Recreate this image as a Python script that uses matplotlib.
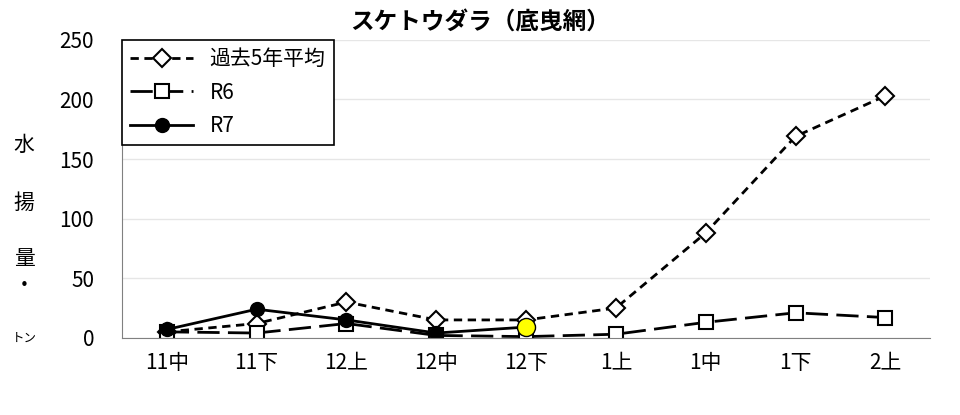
import matplotlib
matplotlib.use("Agg")
import matplotlib.pyplot as plt
plt.rcParams['font.family'] = ['Noto Sans CJK JP', 'DejaVu Sans']

categories = ["11中", "11下", "12上", "12中", "12下", "1上", "1中", "1下", "2上"]
avg5 = [5, 12, 30, 15, 15, 25, 88, 169, 203]
r6 = [5, 4, 12, 2, 1, 3, 13, 21, 17]
r7 = [7, 24, 15, 4, 9]

fig = plt.figure(figsize=(9.6, 4.15), dpi=100)
ax = fig.add_axes([0.127, 0.186, 0.842, 0.718])
x = list(range(len(categories)))
ax.plot(x, avg5, ls=(0, (3, 2)), color='black', lw=2, marker='D', ms=9,
        mfc='white', mec='black', mew=1.5, label='過去5年平均')
ax.plot(x, r6, ls=(0, (8, 3)), color='black', lw=2, marker='s', ms=10,
        mfc='white', mec='black', mew=1.5, label='R6')
ax.plot(x[:len(r7)], r7, ls='-', color='black', lw=2, marker='o', ms=10,
        mfc='black', mec='black', label='R7')
ax.plot([x[len(r7)-1]], [r7[-1]], ls='none', marker='o', ms=13, mfc='#ffff00', mec='black', mew=1)
ax.set_xlim(-0.5, len(categories) - 0.5)
ax.set_ylim(0, 250)
ax.set_yticks(range(0, 251, 50))
ax.set_xticks(x)
ax.set_xticklabels(categories)
ax.tick_params(axis='both', labelsize=15, length=0)
ax.tick_params(axis='x', pad=10)
ax.tick_params(axis='y', pad=20)
ax.grid(axis='y', color='#e6e6e6', lw=1)
ax.set_axisbelow(True)
for s in ['top', 'right']:
    ax.spines[s].set_visible(False)
ax.spines['left'].set_color('#808080')
ax.spines['bottom'].set_color('#808080')
leg = ax.legend(loc='upper left', bbox_to_anchor=(0.0, 1.0), fontsize=15, frameon=True,
                fancybox=False, edgecolor='black', handlelength=3, borderaxespad=0,
                labelspacing=0.55, framealpha=1)
leg.get_frame().set_linewidth(1.2)
fig.text(0.5, 0.945, 'スケトウダラ（底曳網）', ha='center', va='center', fontsize=17, fontweight='bold')
for t, yy, fs in [('水', 0.65, 15), ('揚', 0.51, 15), ('量', 0.375, 15), ('・', 0.31, 15), ('トン', 0.185, 9)]:
    fig.text(0.025, yy, t, ha='center', va='center', fontsize=fs)
fig.savefig('out.png', dpi=100)
